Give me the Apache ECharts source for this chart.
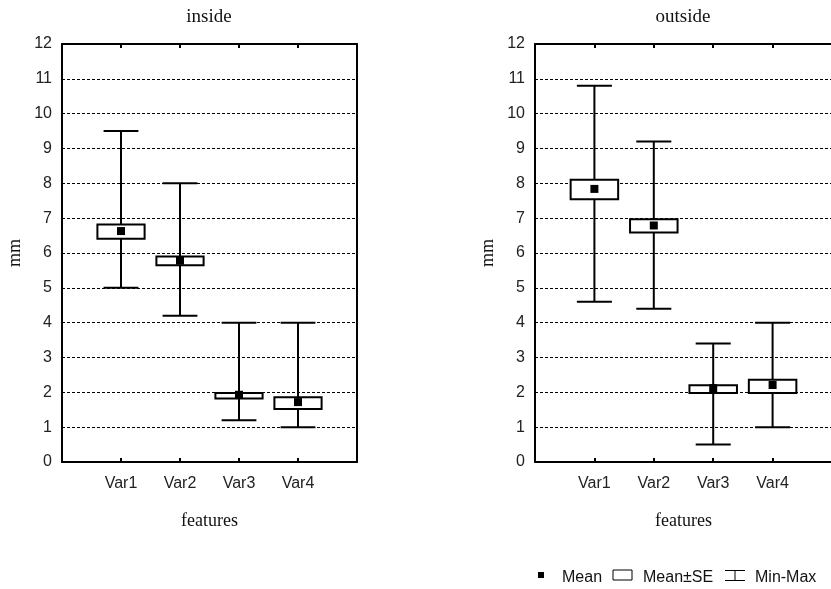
<!DOCTYPE html>
<html>
<head>
<meta charset="utf-8">
<script src="https://cdn.jsdelivr.net/npm/echarts@6/dist/echarts.min.js"></script>
<style>html,body{margin:0;padding:0;background:#fff;}#c{width:831px;height:589px;}</style>
</head>
<body>
<div id="c"></div>
<script>
const categories = ['Var1', 'Var2', 'Var3', 'Var4'];
const yTicks = [0,1,2,3,4,5,6,7,8,9,10,11,12];

const insideMin    = [5.0, 4.2, 1.2, 1.0];
const insideMax    = [9.5, 8.0, 4.0, 4.0];
const insideSeLow  = [6.41, 5.65, 1.82, 1.52];
const insideSeHigh = [6.82, 5.90, 1.98, 1.86];
const insideMean   = [6.63, 5.78, 1.93, 1.72];

const outsideMin    = [4.6, 4.4, 0.5, 1.0];
const outsideMax    = [10.8, 9.2, 3.4, 4.0];
const outsideSeLow  = [7.54, 6.59, 1.98, 1.98];
const outsideSeHigh = [8.10, 6.97, 2.20, 2.36];
const outsideMean   = [7.84, 6.79, 2.12, 2.21];

const SANS = 'Liberation Sans';
const SERIF = 'Liberation Serif';

function boxData(mn, lo, hi, mx) {
  return categories.map((c, i) => [i + 1, mn[i], lo[i], hi[i], mx[i]]);
}
function meanData(m) {
  return categories.map((c, i) => [i + 1, m[i]]);
}

function renderItem(params, api) {
  const x = api.value(0);
  const pMin = api.coord([x, api.value(1)]);
  const pLo = api.coord([x, api.value(2)]);
  const pHi = api.coord([x, api.value(3)]);
  const pMax = api.coord([x, api.value(4)]);
  const bw = api.size([0.8, 0])[0];
  const cw = api.size([0.59, 0])[0];
  const st = { stroke: '#000', lineWidth: 2, fill: null };
  return {
    type: 'group',
    children: [
      { type: 'line', shape: { x1: pMin[0], y1: pMin[1], x2: pMax[0], y2: pMax[1] }, style: st },
      { type: 'line', shape: { x1: pMin[0] - cw / 2, y1: pMin[1], x2: pMin[0] + cw / 2, y2: pMin[1] }, style: st },
      { type: 'line', shape: { x1: pMax[0] - cw / 2, y1: pMax[1], x2: pMax[0] + cw / 2, y2: pMax[1] }, style: st },
      { type: 'rect', shape: { x: pHi[0] - bw / 2, y: pHi[1], width: bw, height: pLo[1] - pHi[1] },
        style: { fill: '#fff', stroke: '#000', lineWidth: 2 } }
    ]
  };
}

function xAxes(gridIndex) {
  return [
    {
      gridIndex, type: 'value', min: 0, max: 5, interval: 1, position: 'bottom',
      name: 'features', nameLocation: 'middle', nameGap: 50,
      nameTextStyle: { fontFamily: SERIF, fontSize: 18, color: '#111' },
      axisLine: { show: true, onZero: false, lineStyle: { color: '#000', width: 2 } },
      axisTick: { show: true, inside: true, length: 4, lineStyle: { color: '#000', width: 2 } },
      axisLabel: { margin: 14, fontFamily: SANS, fontSize: 16, color: '#222',
        formatter: v => (v >= 1 && v <= categories.length) ? categories[v - 1] : '' },
      splitLine: { show: false }
    },
    {
      gridIndex, type: 'value', min: 0, max: 5, interval: 1, position: 'top',
      axisLine: { show: true, onZero: false, lineStyle: { color: '#000', width: 2 } },
      axisTick: { show: true, inside: true, length: 4, lineStyle: { color: '#000', width: 2 } },
      axisLabel: { show: false }, splitLine: { show: false }
    }
  ];
}
function yAxes(gridIndex) {
  return [
    {
      gridIndex, type: 'value', min: yTicks[0], max: yTicks[yTicks.length - 1], interval: 1, position: 'left',
      name: 'mm', nameLocation: 'middle', nameGap: 38, nameRotate: 90,
      nameTextStyle: { fontFamily: SERIF, fontSize: 18, color: '#111' },
      axisLine: { show: true, onZero: false, lineStyle: { color: '#000', width: 2 } },
      axisTick: { show: true, inside: true, length: 3, lineStyle: { color: '#000', width: 1 } },
      axisLabel: { margin: 10, fontFamily: SANS, fontSize: 16, color: '#222' },
      splitLine: { show: true, lineStyle: { color: '#000', width: 1, type: [3, 2] } }
    },
    {
      gridIndex, type: 'value', min: yTicks[0], max: yTicks[yTicks.length - 1], interval: 1, position: 'right',
      axisLine: { show: true, onZero: false, lineStyle: { color: '#000', width: 2 } },
      axisTick: { show: false }, axisLabel: { show: false }, splitLine: { show: false }
    }
  ];
}

const chart = echarts.init(document.getElementById('c'), null, { renderer: 'canvas' });
chart.setOption({
  backgroundColor: '#fff',
  animation: false,
  title: [
    { text: 'inside', left: 204, top: 3, textAlign: 'center',
      textStyle: { fontFamily: SERIF, fontSize: 19, fontWeight: 'normal', color: '#111' } },
    { text: 'outside', left: 678, top: 3, textAlign: 'center',
      textStyle: { fontFamily: SERIF, fontSize: 19, fontWeight: 'normal', color: '#111' } }
  ],
  grid: [
    { left: 62, top: 44, width: 295, height: 418, outerBoundsMode: 'none', containLabel: false },
    { left: 535, top: 44, width: 297, height: 418, outerBoundsMode: 'none', containLabel: false }
  ],
  xAxis: [...xAxes(0), ...xAxes(1)],
  yAxis: [...yAxes(0), ...yAxes(1)],
  series: [
    { type: 'custom', xAxisIndex: 0, yAxisIndex: 0, renderItem, data: boxData(insideMin, insideSeLow, insideSeHigh, insideMax), z: 3 },
    { type: 'scatter', xAxisIndex: 0, yAxisIndex: 0, symbol: 'rect', symbolSize: 8,
      itemStyle: { color: '#000', opacity: 1 }, data: meanData(insideMean), z: 5 },
    { type: 'custom', xAxisIndex: 2, yAxisIndex: 2, renderItem, data: boxData(outsideMin, outsideSeLow, outsideSeHigh, outsideMax), z: 3 },
    { type: 'scatter', xAxisIndex: 2, yAxisIndex: 2, symbol: 'rect', symbolSize: 8,
      itemStyle: { color: '#000', opacity: 1 }, data: meanData(outsideMean), z: 5 }
  ],
  graphic: [
    { type: 'rect', shape: { x: 538, y: 572, width: 6, height: 6 }, style: { fill: '#000' } },
    { type: 'text', x: 562, y: 578, style: { text: 'Mean', fontFamily: SANS, fontSize: 16, fill: '#111', verticalAlign: 'middle' } },
    { type: 'rect', shape: { x: 613, y: 570, width: 19, height: 10 }, style: { fill: '#fff', stroke: '#000', lineWidth: 1 } },
    { type: 'text', x: 643, y: 578, style: { text: 'Mean±SE', fontFamily: SANS, fontSize: 16, fill: '#111', verticalAlign: 'middle' } },
    { type: 'polyline', shape: { points: [[725, 570.5], [745, 570.5]] }, style: { stroke: '#000', lineWidth: 1 } },
    { type: 'polyline', shape: { points: [[735, 570.5], [735, 580.5]] }, style: { stroke: '#000', lineWidth: 1 } },
    { type: 'polyline', shape: { points: [[725, 580.5], [745, 580.5]] }, style: { stroke: '#000', lineWidth: 1 } },
    { type: 'text', x: 755, y: 578, style: { text: 'Min-Max', fontFamily: SANS, fontSize: 16, fill: '#111', verticalAlign: 'middle' } }
  ]
});
</script>
</body>
</html>
